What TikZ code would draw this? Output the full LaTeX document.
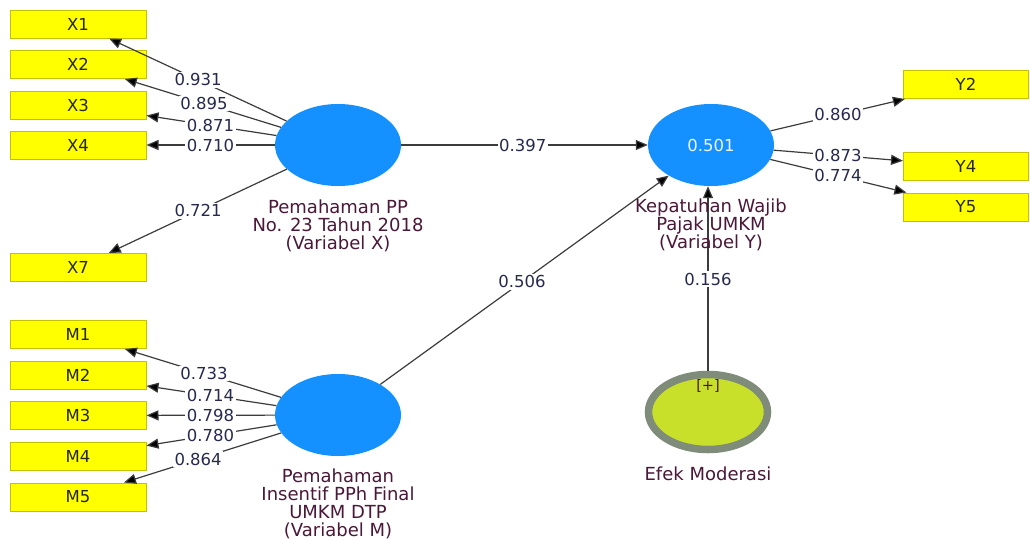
\documentclass[tikz,border=0pt]{standalone}
\usepackage{fontspec}
\setmainfont{DejaVu Sans}
\usetikzlibrary{shapes.geometric,arrows.meta,calc}
\definecolor{lvblue}{HTML}{1490FF}
\definecolor{indfill}{HTML}{FFFF00}
\definecolor{indborder}{HTML}{C2C200}
\definecolor{modfill}{HTML}{C9E02A}
\definecolor{modring}{HTML}{7F8C7A}
\definecolor{txtc}{HTML}{4A1838}
\definecolor{numc}{HTML}{262A4E}
\definecolor{edgec}{HTML}{3C3C3C}
\begin{document}
\begin{tikzpicture}[x=1pt,y=-1pt,
  indbox/.style={draw=indborder, fill=indfill, line width=1pt, minimum width=136pt, minimum height=28pt, inner sep=0pt, font=\fontsize{16.5}{16.5}\selectfont, text=black!85},
  lv/.style={ellipse, fill=lvblue, minimum width=126pt, minimum height=82pt, inner sep=0pt},
  arr/.style={draw=edgec, line width=1.2pt, -{Triangle[length=12pt,width=10pt,fill=black]}},
  wt/.style={fill=white, inner sep=1.5pt, text=numc, font=\fontsize{16.5}{16.5}\selectfont},
  lbl/.style={align=center, text=txtc, font=\fontsize{18}{18}\selectfont}
]
\fill[white, use as bounding box] (0,0) rectangle (1030,539);

% indicators
\node[indbox] (X1) at (78,24) {X1};
\node[indbox] (X2) at (78,64.5) {X2};
\node[indbox] (X3) at (78,105) {X3};
\node[indbox] (X4) at (78,145) {X4};
\node[indbox] (X7) at (78,267.5) {X7};
\node[indbox] (M1) at (78,334.5) {M1};
\node[indbox] (M2) at (78,375.5) {M2};
\node[indbox] (M3) at (78,415.5) {M3};
\node[indbox] (M4) at (78,456.5) {M4};
\node[indbox] (M5) at (78,497) {M5};
\node[indbox, minimum width=125pt] (Y2) at (966,84.5) {Y2};
\node[indbox, minimum width=125pt] (Y4) at (966,166) {Y4};
\node[indbox, minimum width=125pt] (Y5) at (966,207) {Y5};

% latent variables
\node[lv] (X) at (338,145) {};
\node[lv] (M) at (338,415) {};
\node[lv, text=white!92!lvblue, font=\fontsize{16.5}{16.5}\selectfont] (Y) at (711,145) {0.501};
\node[ellipse, fill=modfill, draw=modring, line width=7.5pt, minimum width=119pt, minimum height=75pt, inner sep=0pt] (Mod) at (708,412) {};
\node[text=txtc, font=\fontsize{14.5}{14.5}\selectfont, inner sep=0pt] (plus) at (708,386) {[+]};

% connectors
\foreach \i in {X1,X2,X3,X4,X7} \draw[arr] (X) -- (\i);
\foreach \i in {M1,M2,M3,M4,M5} \draw[arr] (M) -- (\i);
\foreach \i in {Y2,Y4,Y5} \draw[arr] (Y) -- (\i);
\draw[arr] (X) -- (Y);
\draw[arr] (M) -- (Y);
\draw[arr] (Mod.north) -- (Mod.north |- Y.south);

% weights
\node[wt] (w1) at ($(X)!0.538!(X1)$) {0.931};
\node[wt] (w2) at ($(X)!0.515!(X2)$) {0.895};
\node[wt] (w3) at ($(X)!0.49!(X3)$) {0.871};
\node[wt] (w4) at ($(X)!0.49!(X4)$) {0.710};
\node[wt] (w7) at ($(X)!0.538!(X7)$) {0.721};
\node[wt] (v1) at ($(M)!0.515!(M1)$) {0.733};
\node[wt] (v2) at ($(M)!0.49!(M2)$) {0.714};
\node[wt] (v3) at ($(M)!0.49!(M3)$) {0.798};
\node[wt] (v4) at ($(M)!0.49!(M4)$) {0.780};
\node[wt] (v5) at ($(M)!0.538!(M5)$) {0.864};
\node[wt] (u2) at ($(Y)!0.498!(Y2)$) {0.860};
\node[wt] (u4) at ($(Y)!0.498!(Y4)$) {0.873};
\node[wt] (u5) at ($(Y)!0.498!(Y5)$) {0.774};
\node[wt] (pXY) at ($(X)!0.495!(Y)$) {0.397};
\node[wt] (pMY) at ($(M)!0.493!(Y)$) {0.506};
\node[wt] (pModY) at (708,279) {0.156};

% labels
\node[lbl] (lX) at (338,226) {Pemahaman PP\\No. 23 Tahun 2018\\(Variabel X)};
\node[lbl] (lM) at (338,504) {Pemahaman\\Insentif PPh Final\\UMKM DTP\\(Variabel M)};
\node[lbl] (lY) at (711,225) {Kepatuhan Wajib\\Pajak UMKM\\(Variabel Y)};
\node[lbl] (lMod) at (708,474) {Efek Moderasi};
\end{tikzpicture}
\end{document}
